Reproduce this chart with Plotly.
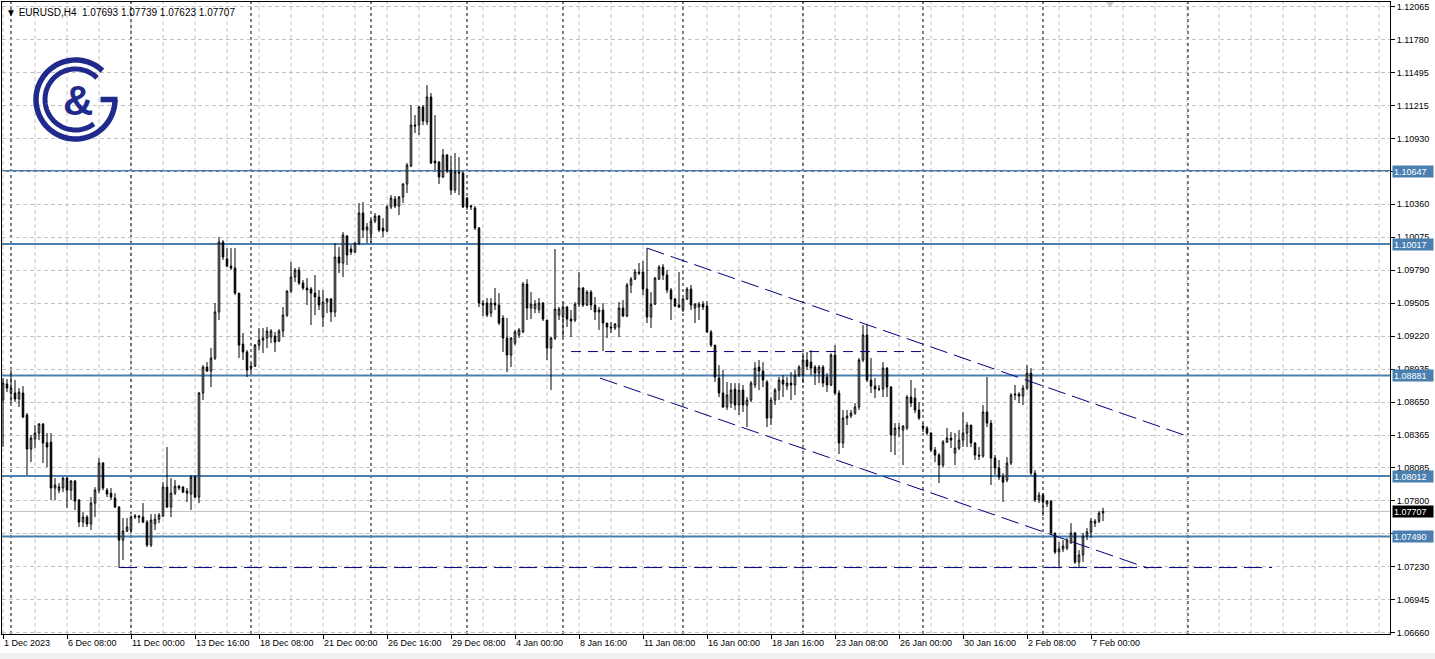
import numpy as np
import plotly.graph_objects as go

# ---------------- data (EURUSD H4) ----------------
opens = [
 1.08669,1.08807,1.08730,1.08730,1.08678,1.08730,1.08540,1.08246,1.08332,1.08384,
 1.08462,1.08300,1.08306,1.07909,1.07890,1.07910,1.07995,1.07891,1.07970,1.07805,
 1.07615,1.07658,1.07598,1.07779,1.07891,1.08125,1.07891,1.07865,1.07822,1.07745,
 1.07459,1.07537,1.07545,1.07658,1.07667,1.07658,1.07615,1.07416,1.07600,1.07640,
 1.07667,1.07917,1.07745,1.07865,1.07925,1.07917,1.07883,1.07857,1.08004,1.07831,
 1.08730,1.08954,1.08920,1.09032,1.09430,1.10034,1.09888,1.09827,1.09810,1.09593,
 1.09153,1.09084,1.08946,1.08963,1.09144,1.09187,1.09205,1.09213,1.09222,1.09178,
 1.09265,1.09403,1.09610,1.09732,1.09792,1.09680,1.09637,1.09628,1.09593,1.09559,
 1.09386,1.09516,1.09542,1.09430,1.09905,1.09853,1.10086,1.09974,1.09948,1.10025,
 1.10285,1.10138,1.10103,1.10216,1.10259,1.10155,1.10130,1.10337,1.10406,1.10345,
 1.10423,1.10535,1.10691,1.11045,1.11045,1.11201,1.11071,1.11287,1.10734,1.10725,
 1.10596,1.10786,1.10656,1.10483,1.10639,1.10630,1.10414,1.10337,1.10328,1.10155,
 1.09490,1.09507,1.09420,1.09507,1.09490,1.09378,1.09205,1.09058,1.09161,1.09231,
 1.09257,1.09671,1.09464,1.09460,1.09450,1.09507,1.09360,1.09118,1.09205,1.09403,
 1.09386,1.09473,1.09369,1.09360,1.09498,1.09637,1.09490,1.09602,1.09490,1.09430,
 1.09447,1.09334,1.09300,1.09292,1.09300,1.09464,1.09395,1.09663,1.09714,1.09775,
 1.09775,1.09628,1.09386,1.09498,1.09714,1.09818,1.09749,1.09619,1.09542,1.09490,
 1.09447,1.09542,1.09628,1.09464,1.09473,1.09498,1.09481,1.09257,1.09144,1.08859,
 1.08730,1.08609,1.08643,1.08764,1.08626,1.08755,1.08626,1.08669,1.08799,1.08954,
 1.08920,1.08825,1.08514,1.08669,1.08755,1.08842,1.08790,1.08816,1.08799,1.08885,
 1.08885,1.09015,1.08997,1.08954,1.08902,1.08954,1.08868,1.08799,1.09058,1.08730,
 1.08298,1.08514,1.08531,1.08557,1.08609,1.09015,1.09231,1.08842,1.08790,1.08764,
 1.08764,1.08945,1.08781,1.08367,1.08427,1.08410,1.08427,1.08695,1.08686,1.08583,
 1.08444,1.08427,1.08384,1.08237,1.08194,1.08107,1.08306,1.08341,1.08211,1.08254,
 1.08323,1.08384,1.08453,1.08298,1.08194,1.08185,1.08566,1.08470,1.08168,1.08082,
 1.08004,1.07978,1.08125,1.08712,1.08720,1.08704,1.08773,1.08902,1.08038,1.07805,
 1.07848,1.07771,1.07796,1.07520,1.07356,1.07382,1.07390,1.07433,1.07520,1.07270,
 1.07330,1.07494,1.07529,1.07606,1.07623,1.07693]

highs = [
 1.08859,1.08850,1.08928,1.08842,1.08773,1.08790,1.08557,1.08367,1.08453,1.08470,
 1.08470,1.08384,1.08384,1.07995,1.07952,1.08004,1.08004,1.07978,1.07978,1.07814,
 1.07701,1.07675,1.07831,1.07917,1.08168,1.08133,1.07909,1.07909,1.07865,1.07753,
 1.07650,1.07650,1.07675,1.07684,1.07675,1.07779,1.07632,1.07684,1.07684,1.07693,
 1.07960,1.08263,1.07995,1.07978,1.07935,1.07925,1.07909,1.08021,1.08021,1.08738,
 1.08971,1.08997,1.09118,1.09507,1.10077,1.10051,1.09982,1.09982,1.09982,1.09593,
 1.09248,1.09101,1.08989,1.09153,1.09291,1.09291,1.09300,1.09282,1.09257,1.09282,
 1.09473,1.09619,1.09861,1.09810,1.09818,1.09706,1.09723,1.09645,1.09749,1.09619,
 1.09619,1.09550,1.09550,1.10025,1.09991,1.10120,1.10095,1.10008,1.10034,1.10371,
 1.10380,1.10198,1.10233,1.10285,1.10267,1.10241,1.10354,1.10440,1.10432,1.10432,
 1.10544,1.10717,1.11218,1.11131,1.11209,1.11218,1.11390,1.11321,1.11131,1.10734,
 1.10838,1.10794,1.10777,1.10803,1.10768,1.10639,1.10423,1.10354,1.10345,1.10164,
 1.09533,1.09550,1.09550,1.09637,1.09593,1.09403,1.09378,1.09213,1.09274,1.09291,
 1.09689,1.09714,1.09602,1.09533,1.09550,1.09516,1.09360,1.09213,1.09974,1.09473,
 1.09516,1.09481,1.09447,1.09516,1.09775,1.09645,1.09619,1.09619,1.09559,1.09473,
 1.09507,1.09334,1.09343,1.09334,1.09516,1.09533,1.09680,1.09732,1.09801,1.09853,
 1.09870,1.09982,1.09602,1.09732,1.09835,1.09844,1.09792,1.09637,1.09550,1.09775,
 1.09550,1.09645,1.09663,1.09507,1.09516,1.09524,1.09524,1.09274,1.09144,1.08971,
 1.08928,1.08825,1.08816,1.08816,1.08816,1.08799,1.08695,1.08833,1.08997,1.09015,
 1.08997,1.08842,1.08695,1.08773,1.08868,1.08885,1.08868,1.08910,1.08928,1.08971,
 1.09075,1.09084,1.09101,1.08971,1.08971,1.08971,1.08902,1.09075,1.09144,1.08755,
 1.08583,1.08583,1.08583,1.08643,1.09032,1.09317,1.09317,1.09032,1.08859,1.08799,
 1.08997,1.08954,1.08790,1.08470,1.08470,1.08453,1.08712,1.08842,1.08773,1.08652,
 1.08470,1.08444,1.08392,1.08263,1.08211,1.08323,1.08427,1.08392,1.08384,1.08410,
 1.08566,1.08479,1.08453,1.08306,1.08263,1.08626,1.08868,1.08497,1.08194,1.08151,
 1.08038,1.08177,1.08730,1.08799,1.08738,1.08799,1.08971,1.08945,1.08064,1.07874,
 1.07865,1.07805,1.07805,1.07520,1.07442,1.07459,1.07477,1.07606,1.07529,1.07373,
 1.07520,1.07563,1.07650,1.07641,1.07710,1.07739]

lows = [
 1.08263,1.08738,1.08643,1.08652,1.08609,1.08514,1.08021,1.08133,1.08254,1.08323,
 1.08125,1.08090,1.07805,1.07805,1.07865,1.07874,1.07736,1.07805,1.07719,1.07572,
 1.07572,1.07572,1.07546,1.07658,1.07865,1.07891,1.07831,1.07805,1.07736,1.07222,
 1.07287,1.07529,1.07520,1.07641,1.07606,1.07606,1.07399,1.07399,1.07546,1.07606,
 1.07658,1.07736,1.07658,1.07848,1.07891,1.07865,1.07788,1.07719,1.07822,1.07779,
 1.08669,1.08911,1.08781,1.09015,1.09360,1.09879,1.09818,1.09792,1.09576,1.09032,
 1.09015,1.08868,1.08902,1.08954,1.09101,1.09075,1.09118,1.09161,1.09084,1.09170,
 1.09213,1.09386,1.09593,1.09689,1.09663,1.09619,1.09490,1.09317,1.09403,1.09447,
 1.09300,1.09420,1.09343,1.09386,1.09766,1.09732,1.09835,1.09922,1.09940,1.10008,
 1.10069,1.10025,1.10025,1.10198,1.10120,1.10077,1.10120,1.10319,1.10328,1.10267,
 1.10371,1.10458,1.10682,1.10976,1.10959,1.11045,1.11045,1.10708,1.10656,1.10535,
 1.10587,1.10630,1.10440,1.10458,1.10440,1.10328,1.10311,1.10311,1.10138,1.09473,
 1.09395,1.09386,1.09386,1.09447,1.09317,1.09084,1.08910,1.08954,1.09144,1.09205,
 1.09248,1.09360,1.09369,1.09420,1.09420,1.09352,1.09015,1.08755,1.09187,1.09360,
 1.09213,1.09300,1.09213,1.09343,1.09473,1.09473,1.09481,1.09447,1.09360,1.09274,
 1.09092,1.09205,1.09248,1.09274,1.09213,1.09386,1.09386,1.09593,1.09706,1.09749,
 1.09576,1.09334,1.09291,1.09490,1.09706,1.09706,1.09593,1.09360,1.09473,1.09464,
 1.09430,1.09533,1.09447,1.09334,1.09360,1.09447,1.09248,1.09127,1.08825,1.08695,
 1.08600,1.08583,1.08600,1.08583,1.08540,1.08566,1.08436,1.08652,1.08773,1.08755,
 1.08781,1.08436,1.08453,1.08626,1.08669,1.08695,1.08755,1.08669,1.08712,1.08868,
 1.08816,1.08928,1.08885,1.08799,1.08816,1.08781,1.08738,1.08790,1.08712,1.08203,
 1.08254,1.08453,1.08514,1.08540,1.08583,1.08997,1.08825,1.08730,1.08686,1.08747,
 1.08695,1.08695,1.08220,1.08194,1.08349,1.08107,1.08410,1.08609,1.08557,1.08497,
 1.08392,1.08367,1.08220,1.08133,1.07952,1.08090,1.08298,1.08254,1.08107,1.08237,
 1.08263,1.08263,1.08263,1.08151,1.08151,1.08170,1.08436,1.07935,1.08021,1.07978,
 1.07788,1.07960,1.08107,1.08669,1.08643,1.08626,1.08755,1.08021,1.07788,1.07779,
 1.07667,1.07745,1.07503,1.07339,1.07222,1.07356,1.07373,1.07433,1.07252,1.07222,
 1.07270,1.07459,1.07477,1.07572,1.07606,1.07623]

closes = [
 1.08816,1.08773,1.08773,1.08678,1.08738,1.08522,1.08246,1.08341,1.08384,1.08462,
 1.08298,1.08263,1.07909,1.07935,1.07920,1.07995,1.07891,1.07970,1.07796,1.07615,
 1.07658,1.07598,1.07779,1.07891,1.08125,1.07909,1.07857,1.07831,1.07745,1.07459,
 1.07537,1.07572,1.07658,1.07667,1.07658,1.07615,1.07416,1.07632,1.07640,1.07675,
 1.07917,1.07745,1.07865,1.07925,1.07909,1.07874,1.07865,1.08004,1.07831,1.08730,
 1.08954,1.08920,1.09032,1.09430,1.10034,1.09905,1.09827,1.09810,1.09593,1.09144,
 1.09084,1.08928,1.08963,1.09144,1.09187,1.09205,1.09265,1.09265,1.09170,1.09265,
 1.09403,1.09610,1.09732,1.09792,1.09680,1.09637,1.09619,1.09593,1.09559,1.09490,
 1.09516,1.09542,1.09430,1.09905,1.09853,1.10095,1.09922,1.09948,1.10025,1.10285,
 1.10138,1.10164,1.10216,1.10259,1.10138,1.10130,1.10337,1.10414,1.10345,1.10423,
 1.10535,1.10699,1.11045,1.11036,1.11201,1.11080,1.11287,1.10717,1.10717,1.10596,
 1.10786,1.10648,1.10483,1.10639,1.10630,1.10337,1.10337,1.10345,1.10155,1.09507,
 1.09507,1.09403,1.09507,1.09490,1.09334,1.09205,1.09058,1.09205,1.09257,1.09274,
 1.09671,1.09464,1.09498,1.09498,1.09507,1.09369,1.09118,1.09205,1.09455,1.09455,
 1.09473,1.09369,1.09352,1.09498,1.09637,1.09490,1.09602,1.09490,1.09430,1.09447,
 1.09334,1.09300,1.09292,1.09326,1.09464,1.09395,1.09663,1.09714,1.09775,1.09766,
 1.09628,1.09386,1.09498,1.09723,1.09818,1.09749,1.09619,1.09542,1.09481,1.09473,
 1.09542,1.09628,1.09490,1.09498,1.09498,1.09473,1.09257,1.09144,1.08868,1.08730,
 1.08609,1.08712,1.08755,1.08626,1.08755,1.08626,1.08669,1.08816,1.08945,1.08920,
 1.08842,1.08514,1.08669,1.08755,1.08842,1.08807,1.08816,1.08799,1.08885,1.08954,
 1.09015,1.08960,1.08945,1.08902,1.08954,1.08816,1.08799,1.09058,1.08730,1.08298,
 1.08514,1.08531,1.08557,1.08609,1.09015,1.09231,1.08842,1.08790,1.08764,1.08764,
 1.08945,1.08781,1.08367,1.08427,1.08427,1.08444,1.08695,1.08643,1.08583,1.08514,
 1.08427,1.08384,1.08237,1.08194,1.08107,1.08306,1.08341,1.08323,1.08254,1.08323,
 1.08384,1.08453,1.08298,1.08194,1.08185,1.08566,1.08470,1.08168,1.08082,1.08004,
 1.07960,1.08125,1.08712,1.08720,1.08704,1.08773,1.08902,1.08038,1.07805,1.07848,
 1.07788,1.07796,1.07520,1.07356,1.07382,1.07408,1.07459,1.07520,1.07270,1.07330,
 1.07494,1.07529,1.07623,1.07623,1.07693,1.07707]

bar_index = list(range(len(closes)))

x_tick_bars = [0, 16, 32, 48, 64, 80, 96, 112, 128, 144, 160, 176, 192, 208, 224, 240, 256, 272]
x_tick_labels = ["1 Dec 2023", "6 Dec 08:00", "11 Dec 00:00", "13 Dec 16:00", "18 Dec 08:00",
                 "21 Dec 00:00", "26 Dec 16:00", "29 Dec 08:00", "4 Jan 00:00", "8 Jan 16:00",
                 "11 Jan 08:00", "16 Jan 00:00", "18 Jan 16:00", "23 Jan 08:00", "26 Jan 00:00",
                 "30 Jan 16:00", "2 Feb 08:00", "7 Feb 00:00"]
y_ticks = [1.12065, 1.11780, 1.11495, 1.11215, 1.10930, 1.10645, 1.10360, 1.10075, 1.09790,
           1.09505, 1.09220, 1.08935, 1.08650, 1.08365, 1.08085, 1.07800, 1.07515, 1.07230,
           1.06945, 1.06660]

levels = [1.10647, 1.10017, 1.08881, 1.08012, 1.07490]
week_starts = [2, 32, 62, 92, 116, 140, 170, 200, 230, 260, 296.25]

channel_upper_x = [161, 296.75]
channel_upper_y = [1.09982, 1.08349]
channel_lower_x = [149.25, 286.25]
channel_lower_y = [1.08859, 1.07217]
support_x = [29, 317.25]
support_y = [1.07222, 1.07222]
mid_x = [142, 230]
mid_y = [1.09088, 1.09088]

# ---------------- figure ----------------
W, H = 1435, 659
ML, MR, MT, MB = 2, 45, 2, 25
FONT = "Liberation Sans, Arial, sans-serif"
NAVY = "#00007f"
STEEL = "#4a7fb0"
GRID = "#c3c3c3"

fig = go.Figure()
fig.add_trace(go.Candlestick(
    x=bar_index, open=opens, high=highs, low=lows, close=closes,
    increasing=dict(line=dict(color="black", width=1), fillcolor="white"),
    decreasing=dict(line=dict(color="black", width=1), fillcolor="black"),
    whiskerwidth=0, hoverinfo="skip", showlegend=False))

shapes = []
# vertical grid
for b in range(0, 345, 8):
    shapes.append(dict(type="line", xref="x", yref="y domain", x0=b, x1=b, y0=0, y1=1,
                       line=dict(color=GRID, width=1, dash="4px,3px"), layer="below"))
# week separators
for w in week_starts:
    shapes.append(dict(type="line", xref="x", yref="y domain", x0=w, x1=w, y0=0, y1=1,
                       line=dict(color="black", width=1, dash="3px,3px"), layer="below"))
# current price line
shapes.append(dict(type="line", xref="x domain", yref="y", x0=0, x1=1, y0=closes[-1], y1=closes[-1],
                   line=dict(color="#c0c0c0", width=1), layer="below"))
# horizontal levels
for lv in levels:
    shapes.append(dict(type="line", xref="x domain", yref="y", x0=0, x1=1, y0=lv, y1=lv,
                       line=dict(color=STEEL, width=2), layer="below"))
# trend / channel lines
for xs, ys, dash in [(channel_upper_x, channel_upper_y, "18px,7px"),
                     (channel_lower_x, channel_lower_y, "18px,7px"),
                     (support_x, support_y, "18px,7px"),
                     (mid_x, mid_y, "10px,7px")]:
    shapes.append(dict(type="line", xref="x", yref="y", x0=xs[0], x1=xs[1], y0=ys[0], y1=ys[1],
                       line=dict(color=NAVY, width=1, dash=dash)))

# logo (pixel geometry -> paper coords)
pw, ph = W - ML - MR, H - MT - MB
def ppx(x):
    return (x - ML) / pw
def ppy(y):
    return (H - MB - y) / ph
def arc_path(cx, cy, r, a0, a1, n=80):
    t = np.radians(np.linspace(a0, a1, n))
    pts = [(ppx(cx + r * np.cos(a)), ppy(cy - r * np.sin(a))) for a in t]
    return "M " + " L ".join(f"{x:.5f},{y:.5f}" for x, y in pts)

LOGO = "#202a8c"
cx, cy = 75.5, 99.5
shapes.append(dict(type="path", xref="paper", yref="paper", path=arc_path(cx, cy, 39.5, 47, 360),
                   line=dict(color=LOGO, width=5.5)))
shapes.append(dict(type="path", xref="paper", yref="paper", path=arc_path(cx, cy, 30.5, 45, 307),
                   line=dict(color=LOGO, width=5)))
shapes.append(dict(type="line", xref="paper", yref="paper", x0=ppx(100.5), x1=ppx(117.5),
                   y0=ppy(cy), y1=ppy(cy), line=dict(color=LOGO, width=5.5)))
# chart-shift marker
shapes.append(dict(type="path", xref="paper", yref="paper",
                   path=f"M {ppx(1106):.5f},{ppy(2):.5f} L {ppx(1114):.5f},{ppy(2):.5f} L {ppx(1110):.5f},{ppy(7):.5f} Z",
                   fillcolor="#c8c8c8", line=dict(width=0)))
# bottom status strip
shapes.append(dict(type="rect", xref="paper", yref="paper", x0=ppx(0), x1=ppx(W), y0=ppy(H), y1=ppy(653),
                   fillcolor="#f0f0f0", line=dict(width=0)))

annotations = []
annotations.append(dict(xref="paper", yref="paper", x=ppx(4), y=ppy(5), xanchor="left", yanchor="top",
                        showarrow=False,
                        text=f"▼ EURUSD,H4  {opens[-1]:.5f} {highs[-1]:.5f} {lows[-1]:.5f} {closes[-1]:.5f}",
                        font=dict(family=FONT, size=10, color="black")))
for lv in levels:
    annotations.append(dict(xref="paper", yref="y", x=1, y=lv, xanchor="left", yanchor="middle",
                            xshift=2, showarrow=False, text=f"{lv:.5f}", bgcolor=STEEL,
                            font=dict(family=FONT, size=9, color="white"),
                            width=38, height=9, align="left", borderpad=1))
annotations.append(dict(xref="paper", yref="y", x=1, y=closes[-1], xanchor="left", yanchor="middle",
                        xshift=2, showarrow=False, text=f"{closes[-1]:.5f}", bgcolor="black",
                        font=dict(family=FONT, size=9, color="white"),
                        width=38, height=9, align="left", borderpad=1))
annotations.append(dict(xref="paper", yref="paper", x=ppx(78), y=ppy(100), xanchor="center", yanchor="middle",
                        showarrow=False, text="<b>&</b>",
                        font=dict(family=FONT, size=42, color=LOGO)))

fig.update_layout(
    width=W, height=H, margin=dict(l=ML, r=MR, t=MT, b=MB),
    paper_bgcolor="white", plot_bgcolor="white",
    showlegend=False, boxgap=0.45, hovermode=False,
    shapes=shapes, annotations=annotations,
    xaxis=dict(range=[-0.25, 346.75], tickmode="array", tickvals=x_tick_bars, ticktext=x_tick_labels,
               ticks="outside", ticklen=4, tickcolor="black", showgrid=False, zeroline=False,
               showline=True, mirror=True, linecolor="black", linewidth=1,
               ticklabelposition="outside right",
               tickfont=dict(family=FONT, size=9, color="black"),
               rangeslider=dict(visible=False), fixedrange=True, automargin=False),
    yaxis=dict(side="right", range=[1.06648, 1.12108], tickmode="array", tickvals=y_ticks,
               ticktext=[f"{v:.5f}" for v in y_ticks], ticks="outside", ticklen=4, tickcolor="black",
               showgrid=True, gridcolor=GRID, griddash="4px,3px", gridwidth=1, zeroline=False,
               showline=True, mirror=True, linecolor="black", linewidth=1,
               tickfont=dict(family=FONT, size=9, color="black"), fixedrange=True, automargin=False),
)

fig.write_html("out.html", config={"displayModeBar": False},
               post_script="document.body.style.margin='0';document.body.style.overflow='hidden';")
